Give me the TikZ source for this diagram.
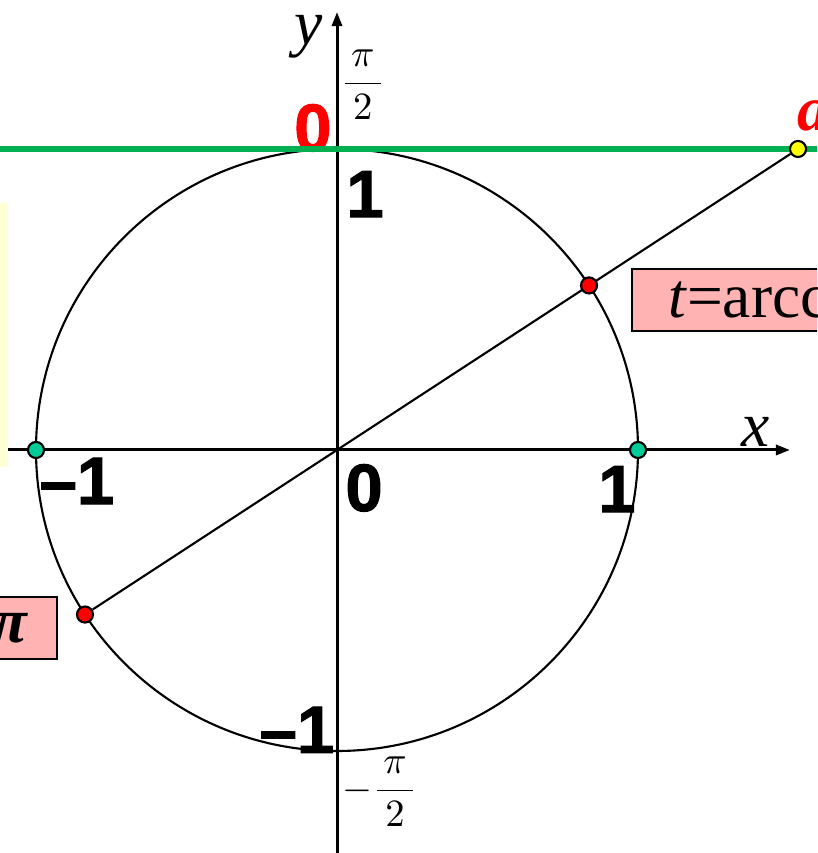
\documentclass[tikz,border=0pt]{standalone}
\usepackage{fontspec}
\setmainfont{Liberation Serif}
\newfontfamily\numfont{Liberation Sans}[BoldFeatures={FakeBold=1.5}]
\usetikzlibrary{arrows.meta, backgrounds}

\definecolor{tanline}{HTML}{00B050}
\definecolor{axisdot}{HTML}{00CC99}
\definecolor{rootdot}{HTML}{FF0000}
\definecolor{pointa}{HTML}{FFFF00}
\definecolor{tagpink}{HTML}{FFB3B3}
\definecolor{notebg}{HTML}{FFFFD5}

\begin{document}
\begin{tikzpicture}[
    x=3cm, y=3cm,
    axis/.style={line width=0.85pt, -{Triangle[length=0.14cm, width=0.1cm]}},
    num/.style={font=\numfont\bfseries\fontsize{19}{19}\selectfont, inner sep=0pt},
    var/.style={font=\fontsize{18}{18}\selectfont\itshape, inner sep=0pt},
    frac/.style={font=\fontsize{11}{11}\selectfont, inner sep=0pt},
    dot/.style={circle, draw=black, line width=0.6pt, minimum size=0.16cm, inner sep=0pt},
    tag/.style={draw=black, line width=0.6pt, fill=tagpink, minimum height=0.62cm,
        inner ysep=0pt, font=\fontsize{18}{18}\selectfont},
]
\def\xl{-1.1196}
\def\xr{1.5947}
\def\yt{1.4950}
\def\yb{-1.3389}
\def\ang{33.14}

\useasboundingbox (\xl, \yb) rectangle (\xr, \yt);
\clip (\xl, \yb) rectangle (\xr, \yt);

\coordinate (O) at (0, 0);
\coordinate (xstart) at (\xl, 0);
\coordinate (xend) at (1.505, 0);
\coordinate (ystart) at (0, \yb);
\coordinate (yend) at (0, 1.455);
\coordinate (gl) at (\xl, 1);
\coordinate (gr) at (\xr, 1);

% unit circle and axes
\draw[line width=0.6pt] (O) circle (1);
\draw[axis] (xstart) -- (xend);
\draw[axis] (ystart) -- (yend);

% red 0 sits under the green line
\node[num, text=rootdot] (zerotop) at (-0.080, 1.070) {0};

% tangent line y = 1
\draw[tanline, line width=1.7pt] (gl) -- (gr);

% points
\node[dot, fill=pointa] (A) at (1.5316, 1) {};
\node[dot, fill=rootdot] (P) at (\ang:1) {};
\node[dot, fill=rootdot] (Q) at (\ang+180:1) {};
\node[dot, fill=axisdot] (E) at (1, 0) {};
\node[dot, fill=axisdot] (W) at (-1, 0) {};

\begin{pgfonlayer}{background}
\draw[line width=0.6pt] (Q) -- (A);
\end{pgfonlayer}

% ticks
\node[num] (onetop) at (0.093, 0.850) {1};
\node[num] (oneleft) at (-0.864, -0.103) {\textendash1};
\node[num] (zero) at (0.090, -0.126) {0};
\node[num] (oneright) at (0.930, -0.130) {1};
\node[num] (onebot) at (-0.133, -0.930) {\textendash1};
\node[frac] (halfpi) at (0.086, 1.213) {$\displaystyle\frac{\,\pi\,}{\,2\,}$};
\node[frac] (mhalfpi) at (0.143, -1.136) {$\displaystyle-\frac{\,\pi\,}{\,2\,}$};
\node[var] (ylab) at (-0.093, 1.372) {y};
\node[var] (xlab) at (1.389, 0.060) {x};
\node[var, font=\fontsize{18}{18}\selectfont\bfseries\itshape, text=rootdot,
    anchor=base west] (alab) at (1.528, 1.063) {a};

% tags
\node[tag, anchor=west, inner xsep=0.36cm] (tagt) at (0.977, 0.498)
    {\textit{t}=arccot \textit{a}};
\node[tag, anchor=east, inner xsep=0.3cm, text width=1cm, align=right,
    font=\fontsize{18}{18}\selectfont\bfseries\itshape] (tagpi) at (-0.927, -0.591) {π};
\fill[notebg] (-1.2, 0.8206) rectangle (-1.093, -0.0565);
\end{tikzpicture}
\end{document}
